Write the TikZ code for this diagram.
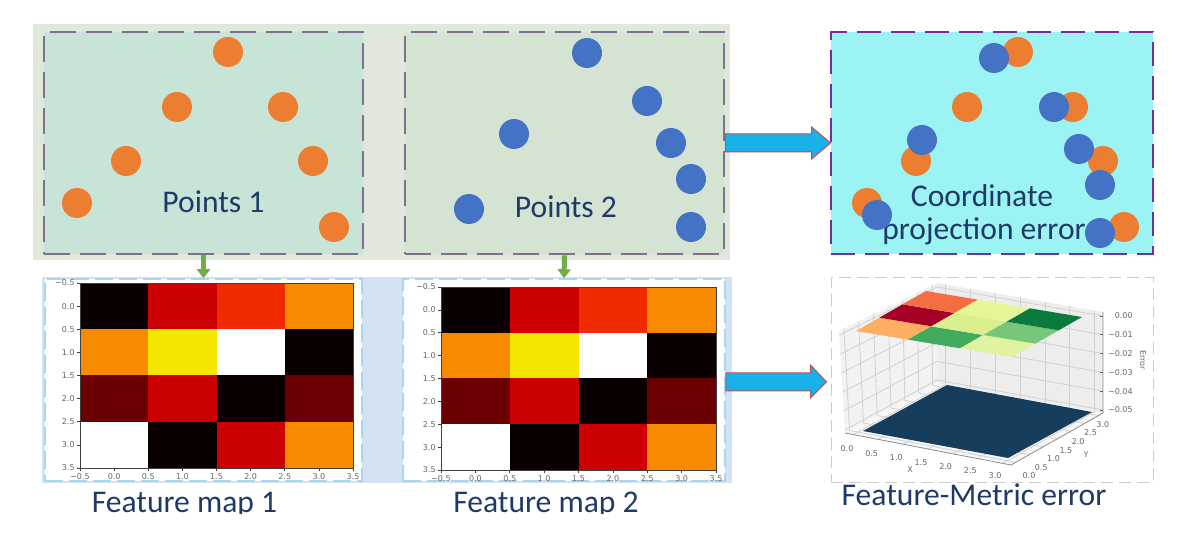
\documentclass[tikz,border=0pt]{standalone}
\usepackage{fontspec}
\setmainfont{Carlito}
\newfontfamily\tickfont{DejaVu Sans}
\usetikzlibrary{arrows.meta,calc,fit}
\definecolor{topbg}{HTML}{E0E7DB}
\definecolor{pone}{HTML}{C7E4D6}
\definecolor{ptwo}{HTML}{D5E3D2}
\definecolor{pthree}{HTML}{9CF3F3}
\definecolor{dashgray}{HTML}{7F7090}
\definecolor{dashpurple}{HTML}{7030A0}
\definecolor{myorange}{HTML}{ED7D31}
\definecolor{myblue}{HTML}{4472C4}
\definecolor{txtblue}{HTML}{1F3A68}
\definecolor{botbg}{HTML}{D3E2F2}
\definecolor{fmborder}{HTML}{A9D5EE}
\definecolor{arrowblue}{HTML}{1AB0E8}
\definecolor{arrowred}{HTML}{C0504D}
\definecolor{arrowgreen}{HTML}{70AD47}
\definecolor{hk}{HTML}{0A0000}
\definecolor{hr}{HTML}{CC0000}
\definecolor{hro}{HTML}{F22A00}
\definecolor{ho}{HTML}{F78A00}
\definecolor{hy}{HTML}{F5E600}
\definecolor{hw}{HTML}{FFFFFF}
\definecolor{hm}{HTML}{6A0000}
\definecolor{sA}{HTML}{FDAE61}
\definecolor{sB}{HTML}{A50026}
\definecolor{sC}{HTML}{F46D43}
\definecolor{sD}{HTML}{41AB5D}
\definecolor{sE}{HTML}{D9EF8B}
\definecolor{sF}{HTML}{E6F598}
\definecolor{sG}{HTML}{E0F3A0}
\definecolor{sH}{HTML}{78C679}
\definecolor{sI}{HTML}{0B7A3E}
\definecolor{navy}{HTML}{163E5C}
\definecolor{gridc}{HTML}{D0D0D0}
\newcommand\drawheat[5]{%
  \pgfmathsetmacro\hcw{(#3-#1)/4}%
  \pgfmathsetmacro\hch{(#4-#2)/4}%
  \foreach \c [count=\n from 0] in {hk,hr,hro,ho,ho,hy,hw,hk,hm,hr,hk,hm,hw,hk,hr,ho}{%
    \pgfmathtruncatemacro\ci{mod(\n,4)}%
    \pgfmathtruncatemacro\ri{div(\n,4)}%
    \fill[\c] ({#1+\ci*\hcw},{#2+\ri*\hch}) rectangle ++(\hcw,\hch);
  }
  \draw[black!75, line width=0.35pt] (#1,#2) rectangle (#3,#4);
  \foreach \lab [count=\k from 0] in {−0.5,0.0,0.5,1.0,1.5,2.0,2.5,3.0,3.5}{%
    \draw[black!75, line width=0.3pt] ({#1},{#2+\k*\hch/2}) -- ++(-3,0);
    \draw[black!75, line width=0.3pt] ({#1+\k*\hcw/2},{#4}) -- ++(0,3);
    \node[tick, anchor=east] (#5y\k) at ({#1-5},{#2+\k*\hch/2}) {\lab};
    \node[tick, anchor=north] (#5x\k) at ({#1+\k*\hcw/2},{#4+5}) {\lab};
  }
}
\begin{document}
\begin{tikzpicture}[x=0.5pt,y=-0.5pt,
  panel/.style={inner sep=0pt, line width=1.4pt, dash pattern=on 13pt off 5pt},
  odot/.style={circle, fill=myorange, minimum size=15pt, inner sep=0pt},
  bdot/.style={circle, fill=myblue, minimum size=15pt, inner sep=0pt},
  lbl/.style={font=\fontsize{15.8}{19}\selectfont, text=txtblue, inner sep=0pt, anchor=base},
  tick/.style={font=\tickfont\fontsize{4}{4}\selectfont, text=black!60, inner sep=0pt},
  greenarrow/.style={draw=arrowgreen, line width=2.5pt, -{Triangle[width=6.5pt,length=4.5pt]}},
  bigarrow/.style={fill=arrowblue, draw=arrowred, line width=0.5pt, line join=miter},
]
\useasboundingbox (0,0) rectangle (1200,534);
\fill[white] (0,0) rectangle (1200,534);

% top band
\fill[topbg] (33,24) rectangle (730,260);
\node[panel, draw=dashgray, fill=pone, fit={(44,32) (363,254)}] (p1) {};
\node[panel, draw=dashgray, fill=ptwo, fit={(405,32) (724,254)}] (p2) {};
\node[panel, draw=dashpurple, fill=pthree, dash pattern=on 12pt off 5pt, fit={(831,32) (1153,254)}] (p3) {};

% points 1
\node[odot] (a1) at (228,52) {};
\node[odot] (a2) at (177,107) {};
\node[odot] (a3) at (283,107) {};
\node[odot] (a4) at (126,161) {};
\node[odot] (a5) at (313,161) {};
\node[odot] (a6) at (77,203) {};
\node[odot] (a7) at (334,227) {};
\node[lbl] (t1) at (213.5,213) {Points 1};

% points 2
\node[bdot] (b1) at (587,53) {};
\node[bdot] (b2) at (647,101) {};
\node[bdot] (b3) at (514,134) {};
\node[bdot] (b4) at (671,143) {};
\node[bdot] (b5) at (691,179) {};
\node[bdot] (b6) at (469,209) {};
\node[bdot] (b7) at (691,227) {};
\node[lbl] (t2) at (566,218) {Points 2};

% coordinate projection error
\node[odot] (c1) at (1018,52) {};
\node[odot] (c2) at (967,107) {};
\node[odot] (c3) at (1073,107) {};
\node[odot] (c4) at (916,161) {};
\node[odot] (c5) at (1103,161) {};
\node[odot] (c6) at (867,203) {};
\node[odot] (c7) at (1124,227) {};
\node[lbl] (t3a) at (982,207) {Coordinate};
\node[lbl] (t3b) at (984,240) {projection error};
\node[bdot] (d1) at (994,58) {};
\node[bdot] (d2) at (1054,107) {};
\node[bdot] (d3) at (922,140) {};
\node[bdot] (d4) at (1079,149) {};
\node[bdot] (d5) at (1100,185) {};
\node[bdot] (d6) at (877,215) {};
\node[bdot] (d7) at (1100,233) {};

% bottom band
\fill[botbg] (42,277) rectangle (732,483);
\node[inner sep=0pt, fill=white, draw=fmborder, line width=0.8pt, dash pattern=on 9pt off 3pt, fit={(45,279) (362,481)}] (fm1) {};
\node[inner sep=0pt, fill=white, draw=fmborder, line width=0.8pt, dash pattern=on 9pt off 3pt, fit={(403,279) (725,481)}] (fm2) {};
\drawheat{80}{283}{353}{468}{ha}
\drawheat{441}{287}{716}{470}{hb}

% 3D plot panel
\node[inner sep=0pt, fill=white, draw=black!20, line width=0.5pt, dash pattern=on 6pt off 3pt, fit={(831,278) (1153,482)}] (p3d) {};
\coordinate (FL) at (845,433);
\coordinate (FB) at (937,383);
\coordinate (FR) at (1103,413);
\coordinate (FF) at (1011,465);
\coordinate (TL) at (839,331);
\coordinate (TB) at (937,283);
\coordinate (TR) at (1103,312);
\fill[black!5] (FL) -- (FB) -- (TB) -- (TL) -- cycle;
\fill[black!7] (FB) -- (FR) -- (TR) -- (TB) -- cycle;
\fill[black!3] (FL) -- (FF) -- (FR) -- (FB) -- cycle;
\foreach \s in {0.05,0.2,0.35,0.5,0.65,0.8,0.95}{
  \draw[gridc, line width=0.4pt] ($(FL)!\s!(FB)$) -- ($(TL)!\s!(TB)$);
  \draw[gridc, line width=0.4pt] ($(FB)!\s!(FR)$) -- ($(TB)!\s!(TR)$);
  \draw[gridc, line width=0.4pt] ($(FL)!\s!(FB)$) -- ($(FF)!\s!(FR)$);
  \draw[gridc, line width=0.4pt] ($(FL)!\s!(FF)$) -- ($(FB)!\s!(FR)$);
}
\foreach \g in {0.04,0.226,0.412,0.598,0.784,0.97}{
  \draw[gridc, line width=0.4pt] ($(TL)!\g!(FL)$) -- ($(TB)!\g!(FB)$);
  \draw[gridc, line width=0.4pt] ($(TB)!\g!(FB)$) -- ($(TR)!\g!(FR)$);
}
\fill[navy] (863,431) -- (947,385) -- (1092,412) -- (1008,458) -- cycle;
\draw[black!45, line width=0.4pt] (FL) -- (FF) -- (FR) -- (TR);
\foreach \a/\b/\col in {0/0/sA,1/0/sB,2/0/sC,0/1/sD,1/1/sE,2/1/sF,0/2/sG,1/2/sH,2/2/sI}{
  \fill[\col] ({856+\a*23.33+\b*52},{331-\a*13.33+\b*8.667}) -- ++(23.33,-13.33) -- ++(52,8.667) -- ++(-23.33,13.33) -- cycle;
}
\foreach \lab [count=\k from 0] in {0.0,0.5,1.0,1.5,2.0,2.5,3.0}{
  \node[tick] (xl\k) at ({847+24.67*\k},{449+4.4*\k}) {\lab};
  \node[tick] (yl\k) at ({1029+12.3*\k},{476-8.6*\k}) {\lab};
}
\node[tick] (xlab) at (910,470) {X};
\node[tick] (ylab) at (1086,455) {Y};
\foreach \lab [count=\k from 0] in {0.00,−0.01,−0.02,−0.03,−0.04,−0.05}{
  \draw[black!60, line width=0.3pt] (1103,{316+18.8*\k}) -- ++(-3,0);
  \node[tick, anchor=east] (zl\k) at (1133,{316+18.8*\k}) {\lab};
}
\node[tick, rotate=-90] (zlab) at (1143,360) {Error};

% arrows
\draw[greenarrow] (p1.south) -- (fm1.north);
\draw[greenarrow] (p2.south) -- (fm2.north);
\draw[bigarrow] ($(p2.east)+(0,-9)$) -- ($(p3.west)+(-18,-9)$) -- ($(p3.west)+(-18,-16)$) -- ($(p3.west)+(1,0)$) -- ($(p3.west)+(-18,16)$) -- ($(p3.west)+(-18,9)$) -- ($(p2.east)+(0,9)$) -- cycle;
\draw[bigarrow] ($(fm2.east)+(0,-7)$) -- ($(p3d.west)+(-20,-7)$) -- ($(p3d.west)+(-20,-15)$) -- ($(p3d.west)+(-4,2)$) -- ($(p3d.west)+(-20,18)$) -- ($(p3d.west)+(-20,11)$) -- ($(fm2.east)+(0,11)$) -- cycle;

% bottom labels (clipped at the bottom as in the source)
\begin{scope}
\clip (0,0) rectangle (1200,513);
\node[lbl] (f1) at (184.5,512) {Feature map 1};
\node[lbl] (f2) at (546,512) {Feature map 2};
\node[lbl] (f3) at (974,505) {Feature-Metric error};
\end{scope}
\end{tikzpicture}
\end{document}
